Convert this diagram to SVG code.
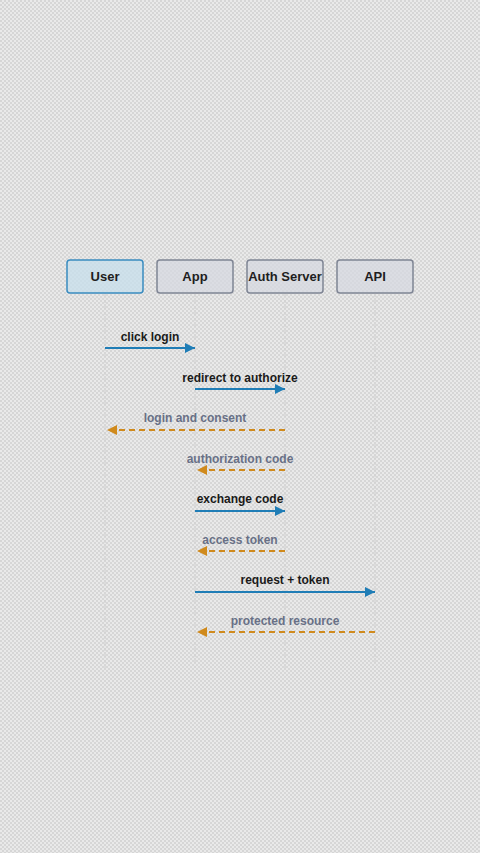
<svg xmlns="http://www.w3.org/2000/svg" width="480" height="853" viewBox="0 0 480 853">
<defs>
<pattern id="chk" width="4" height="4" patternUnits="userSpaceOnUse">
<rect width="4" height="4" fill="#e9e9e9"/>
<rect width="2" height="2" fill="#d6d6d6"/>
<rect x="2" y="2" width="2" height="2" fill="#d6d6d6"/>
</pattern>
<marker id="ab" viewBox="0 0 10 10" refX="10" refY="5" markerWidth="11" markerHeight="10" markerUnits="userSpaceOnUse" orient="auto">
<path d="M0,0 L10,5 L0,10 z" fill="#1f7db6"/>
</marker>
<marker id="ao" viewBox="0 0 10 10" refX="10" refY="5" markerWidth="11" markerHeight="10" markerUnits="userSpaceOnUse" orient="auto">
<path d="M0,0 L10,5 L0,10 z" fill="#d08a1c"/>
</marker>
<style>
.box{fill:#d5d8e0;fill-opacity:0.75;stroke:#7f8594;stroke-width:1.5}
.ubox{fill:#c8dfeb;fill-opacity:0.8;stroke:#3a8cc0;stroke-width:1.5}
.nt{font-family:"Liberation Sans",Arial,sans-serif;font-size:13px;font-weight:bold;fill:#1e1e1e;text-anchor:middle}
.life{stroke:#d0d0d0;stroke-width:1;stroke-dasharray:3 3}
.req{stroke:#1f7db6;stroke-width:2;fill:none;marker-end:url(#ab)}
.rsp{stroke:#d08a1c;stroke-width:2;fill:none;stroke-dasharray:6 4;marker-end:url(#ao)}
.lr{font-family:"Liberation Sans",Arial,sans-serif;font-size:12px;font-weight:bold;fill:#1a1a1a;text-anchor:middle}
.lp{font-family:"Liberation Sans",Arial,sans-serif;font-size:12px;font-weight:bold;fill:#687086;text-anchor:middle}
</style>
</defs>
<rect width="480" height="853" fill="url(#chk)"/>
<g id="lifelines">
<line class="life" x1="105" y1="294" x2="105" y2="668"/>
<line class="life" x1="195" y1="294" x2="195" y2="668"/>
<line class="life" x1="285" y1="294" x2="285" y2="668"/>
<line class="life" x1="375" y1="294" x2="375" y2="668"/>
</g>
<g id="user"><rect class="ubox" x="67" y="260" width="76" height="33" rx="3"/><text class="nt" x="105" y="281">User</text></g>
<g id="app"><rect class="box" x="157" y="260" width="76" height="33" rx="3"/><text class="nt" x="195" y="281">App</text></g>
<g id="auth"><rect class="box" x="247" y="260" width="76" height="33" rx="3"/><text class="nt" x="285" y="281">Auth Server</text></g>
<g id="api"><rect class="box" x="337" y="260" width="76" height="33" rx="3"/><text class="nt" x="375" y="281">API</text></g>
<g id="connectors">
<line class="req" x1="105" y1="348" x2="195" y2="348"/>
<text class="lr" x="150" y="341">click login</text>
<line class="req" x1="195" y1="389" x2="285" y2="389"/>
<text class="lr" x="240" y="382">redirect to authorize</text>
<line class="rsp" x1="285" y1="430" x2="107" y2="430"/>
<text class="lp" x="195" y="422">login and consent</text>
<line class="rsp" x1="285" y1="470" x2="197" y2="470"/>
<text class="lp" x="240" y="463">authorization code</text>
<line class="req" x1="195" y1="511" x2="285" y2="511"/>
<text class="lr" x="240" y="503">exchange code</text>
<line class="rsp" x1="285" y1="551" x2="197" y2="551"/>
<text class="lp" x="240" y="544">access token</text>
<line class="req" x1="195" y1="592" x2="375" y2="592"/>
<text class="lr" x="285" y="584">request + token</text>
<line class="rsp" x1="375" y1="632" x2="197" y2="632"/>
<text class="lp" x="285" y="625">protected resource</text>
</g>
</svg>
